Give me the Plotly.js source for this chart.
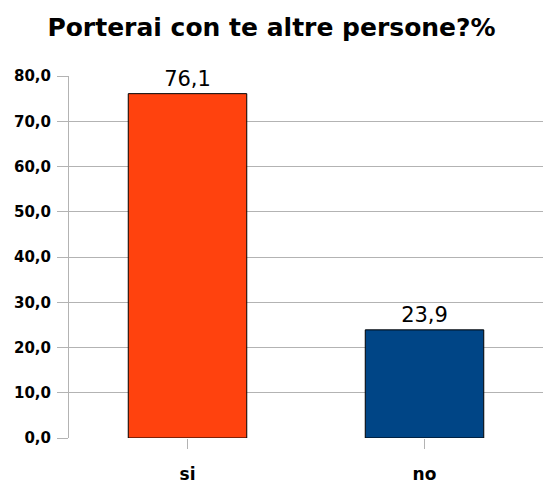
<!DOCTYPE html>
<html><head><meta charset="utf-8">
<script src="https://cdn.plot.ly/plotly-3.0.1.min.js"></script>
<style>body{margin:0;padding:0;background:#fff}#chart{width:543px;height:483px}</style>
</head><body><div id="chart"></div>
<script>
const categories = ["si", "no"];
const values = [76.1, 23.9];
const barColors = ["#ff420e", "#004586"];
const yTickValues = [0, 10, 20, 30, 40, 50, 60, 70, 80];

const trace = {
  type: "bar",
  x: categories,
  y: values,
  marker: {color: barColors, line: {color: "#000000", width: 1}},
  width: 0.5,
  texttemplate: "%{y:.1f}",
  textposition: "outside",
  textfont: {family: "DejaVu Sans", size: 21, color: "#000"},
  cliponaxis: false,
  hoverinfo: "none"
};

const layout = {
  width: 543, height: 483,
  margin: {l: 69, r: 0, t: 76, b: 45},
  paper_bgcolor: "#fff", plot_bgcolor: "#fff",
  separators: ",.",
  showlegend: false,
  title: {text: "Porterai con te altre persone?%", x: 0.5, xanchor: "center", y: 0.944, yanchor: "middle",
          font: {family: "DejaVu Sans", size: 25, color: "#000", weight: "bold"}},
  xaxis: {
    showgrid: false, zeroline: false, showline: false,
    ticks: "outside", ticklen: 10, tickcolor: "#b3b3b3", tickwidth: 1,
    tickfont: {family: "DejaVu Sans", size: 17, color: "#000", weight: "bold"},
    ticklabelstandoff: 11
  },
  yaxis: {
    range: [0, 80], tickvals: yTickValues, tickformat: ".1f",
    showgrid: true, gridcolor: "#b3b3b3", gridwidth: 1,
    zeroline: false, showline: true, linecolor: "#b3b3b3", linewidth: 1,
    ticks: "outside", ticklen: 11, tickcolor: "#b3b3b3",
    tickfont: {family: "DejaVu Sans", size: 15, color: "#000", weight: "bold"},
    ticklabelstandoff: 3
  },
  bargap: 0.5
};

Plotly.newPlot("chart", [trace], layout, {staticPlot: true, displayModeBar: false});
</script></body></html>
